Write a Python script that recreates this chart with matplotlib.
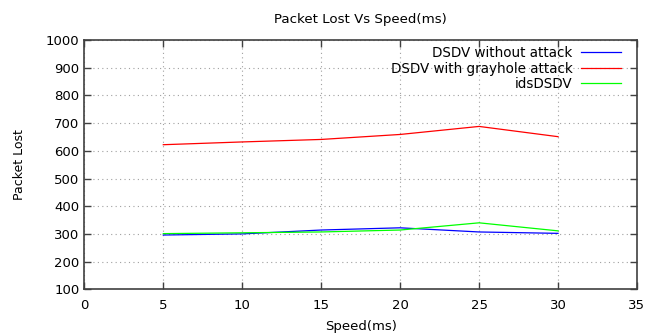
import matplotlib
matplotlib.use("Agg")
import matplotlib.pyplot as plt

speed = [5, 10, 15, 20, 25, 30]
without_attack = [296, 300, 314, 322, 307, 302]
grayhole_attack = [622, 632, 641, 659, 688, 651]
ids_dsdv = [301, 304, 307, 314, 340, 311]

plt.rcParams['font.family'] = 'DejaVu Sans'
fig = plt.figure(figsize=(6.62, 3.35), dpi=100)
ax = fig.add_axes([0.1274, 0.1364, 0.8348, 0.7442])

ax.plot(speed, without_attack, color='#0000ff', lw=0.9, label='DSDV without attack')
ax.plot(speed, grayhole_attack, color='#ff0000', lw=0.9, label='DSDV with grayhole attack')
ax.plot(speed, ids_dsdv, color='#00ff00', lw=0.9, label='idsDSDV')

ax.set_xlim(0, 35)
ax.set_ylim(100, 1000)
ax.set_xticks(range(0, 36, 5))
ax.set_yticks(range(100, 1001, 100))
ax.grid(True, linestyle=(0, (1, 3)), color='#a0a0a0', lw=0.8)
ax.tick_params(direction='in', top=True, right=True, labelsize=9.5, length=5, width=1, color='#404040')
ax.tick_params(axis='x', pad=7)
for s in ax.spines.values():
    s.set_color('#404040')
    s.set_linewidth(1.2)

ax.set_title('Packet Lost Vs Speed(ms)', fontsize=9.6, pad=12.5)
ax.set_xlabel('Speed(ms)', fontsize=9.5, labelpad=6)
ax.set_ylabel('Packet Lost', fontsize=9, labelpad=14)

leg = ax.legend(loc='upper right', frameon=False, fontsize=9.75, markerfirst=False,
                handlelength=2.95, borderaxespad=0, borderpad=0, labelspacing=0.1,
                handletextpad=0.6, bbox_to_anchor=(0.9705, 0.975))
for t in leg.get_texts():
    t.set_ha('right')
leg._legend_box.align = 'right'

fig.savefig('out.png', dpi=100)
